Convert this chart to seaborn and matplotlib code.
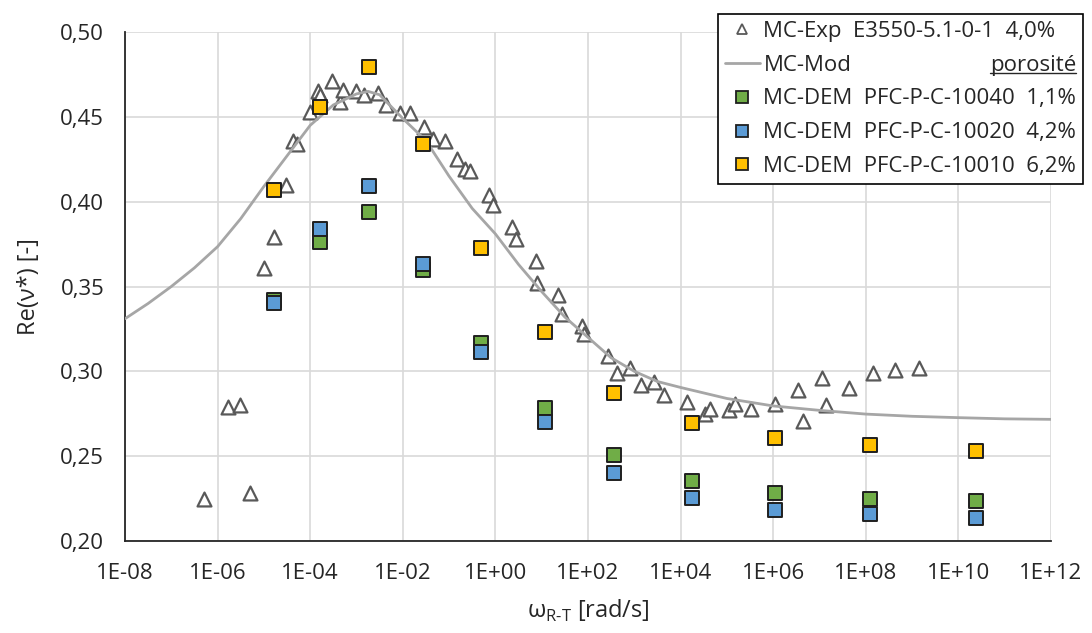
import numpy as np
import pandas as pd
import matplotlib
matplotlib.use("Agg")
import matplotlib.pyplot as plt
from matplotlib.lines import Line2D
from matplotlib.ticker import FuncFormatter, FixedLocator, NullLocator
import seaborn as sns

# MC-Exp E3550-5.1-0-1 (triangles)
exp_w = [5.0e-07, 1.66e-06, 3.1e-06, 5.1e-06, 1.0e-05, 1.66e-05, 3.0e-05, 4.3e-05, 5.1e-05,
         1.0e-04, 1.45e-04, 1.6e-04, 2.95e-04, 4.5e-04, 5.1e-04, 9.8e-04, 1.48e-03, 2.95e-03,
         4.3e-03, 8.7e-03, 1.45e-02, 2.9e-02, 4.6e-02, 8.1e-02, 1.45e-01, 2.2e-01, 2.8e-01,
         7.2e-01, 8.7e-01, 2.3, 2.8, 7.6, 7.9, 22, 27, 74, 81, 270, 420, 810, 1380, 2700, 4300,
         1.4e4, 3.3e4, 4.3e4, 1.1e5, 1.5e5, 3.3e5, 1.1e6, 3.4e6, 4.3e6, 1.15e7, 1.4e7, 4.3e7,
         1.45e8, 4.3e8, 1.4e9]
exp_re = [0.225, 0.279, 0.280, 0.228, 0.361, 0.379, 0.410, 0.436, 0.434,
          0.453, 0.465, 0.463, 0.471, 0.459, 0.466, 0.465, 0.463, 0.464,
          0.457, 0.452, 0.452, 0.444, 0.437, 0.436, 0.425, 0.419, 0.418,
          0.404, 0.398, 0.385, 0.378, 0.365, 0.352, 0.345, 0.334, 0.327, 0.322, 0.309, 0.299,
          0.302, 0.292, 0.294, 0.286,
          0.282, 0.275, 0.278, 0.277, 0.281, 0.278, 0.281, 0.289, 0.271, 0.296, 0.280, 0.290,
          0.299, 0.301, 0.302]

# MC-Mod (model curve)
mod_w = [1e-08, 3.16e-08, 1e-07, 3.16e-07, 1e-06, 3.16e-06, 1e-05, 3.16e-05, 1e-04, 3.16e-04,
         1e-03, 1.78e-03, 3.16e-03, 5.62e-03, 1e-02, 3.16e-02, 1e-01, 3.16e-01, 1.0, 3.16, 10,
         31.6, 100, 316, 1e3, 3.16e3, 1e4, 1e5, 1e6, 1e7, 1e8, 1e9, 1e10, 1e11, 1e12]
mod_re = [0.331, 0.340, 0.350, 0.361, 0.3735, 0.390, 0.409, 0.427, 0.445, 0.457,
          0.4635, 0.465, 0.463, 0.456, 0.449, 0.436, 0.415, 0.396, 0.381, 0.363, 0.347,
          0.332, 0.320, 0.308, 0.300, 0.294, 0.2905, 0.284, 0.2796, 0.277, 0.2748, 0.2735,
          0.2727, 0.2720, 0.2717]

# MC-DEM series
dem_w = [1.66e-05, 1.6e-04, 1.86e-03, 2.7e-02, 0.48, 11.5, 363, 1.74e4, 1.12e6, 1.26e8, 2.4e10]
dem_10040 = [0.3420, 0.3765, 0.3937, 0.3598, 0.3167, 0.2784, 0.2504, 0.2353, 0.2285, 0.2248, 0.2238]
dem_10020 = [0.3401, 0.3838, 0.4090, 0.3630, 0.3112, 0.2702, 0.2403, 0.2252, 0.2184, 0.2159, 0.2137]
dem_10010 = [0.4067, 0.4557, 0.4793, 0.4339, 0.3729, 0.3231, 0.2875, 0.2697, 0.2607, 0.2564, 0.2532]

labels = ["MC-Exp  E3550-5.1-0-1  4,0%", "MC-Mod",
          "MC-DEM  PFC-P-C-10040  1,1%", "MC-DEM  PFC-P-C-10020  4,2%",
          "MC-DEM  PFC-P-C-10010  6,2%"]
x_ticks = [1e-08, 1e-06, 1e-04, 1e-02, 1e+00, 1e+02, 1e+04, 1e+06, 1e+08, 1e+10, 1e+12]
y_ticks = [0.20, 0.25, 0.30, 0.35, 0.40, 0.45, 0.50]

c_green, c_blue, c_yellow = "#70AD47", "#5B9BD5", "#FFC000"
c_tri, c_line, c_edge = "#595959", "#A6A6A6", "#1f1f1f"
c_text = "#262626"

sns.set_theme(style="white")
plt.rcParams["font.family"] = ["Open Sans", "DejaVu Sans"]
plt.rcParams["mathtext.fontset"] = "custom"
plt.rcParams["mathtext.rm"] = "Open Sans"

fig = plt.figure(figsize=(10.92, 6.33), dpi=100)
ax = fig.add_axes([125 / 1092, 1 - 541 / 633, 926 / 1092, 509 / 633])

exp_df = pd.DataFrame({"w": exp_w, "re": exp_re})
mod_df = pd.DataFrame({"w": mod_w, "re": mod_re})

sns.scatterplot(data=exp_df, x="w", y="re", ax=ax, marker="^", s=100,
                facecolor="white", edgecolor=c_tri, linewidth=1.6, zorder=3)
sns.lineplot(data=mod_df, x="w", y="re", ax=ax, color=c_line, linewidth=2.0, zorder=4)
for vals, col in [(dem_10040, c_green), (dem_10020, c_blue), (dem_10010, c_yellow)]:
    d = pd.DataFrame({"w": dem_w, "re": vals})
    sns.scatterplot(data=d, x="w", y="re", ax=ax, marker="s", s=88,
                    color=col, edgecolor=c_edge, linewidth=1.4, zorder=5)

ax.set_xscale("log")
ax.set_xlim(1e-08, 1e+12)
ax.set_ylim(0.20, 0.50)
ax.xaxis.set_major_locator(FixedLocator(x_ticks))
ax.xaxis.set_minor_locator(NullLocator())
ax.xaxis.set_major_formatter(FuncFormatter(lambda v, p: "1E%+03d" % int(round(np.log10(v)))))
ax.yaxis.set_major_locator(FixedLocator(y_ticks))
ax.yaxis.set_major_formatter(FuncFormatter(lambda v, p: ("%.2f" % v).replace(".", ",")))

ax.grid(True, color="#d9d9d9", linewidth=1.2)
ax.set_axisbelow(True)
for s in ["top", "right"]:
    ax.spines[s].set_visible(False)
for s in ["left", "bottom"]:
    ax.spines[s].set_color(c_text)
    ax.spines[s].set_linewidth(1.3)
ax.tick_params(axis="both", which="major", direction="out", length=6, width=1.2,
               color=c_text, labelsize=16, labelcolor=c_text)
ax.tick_params(axis="x", pad=10)
ax.tick_params(axis="y", pad=9)

ax.set_xlabel(r"ω$_{\mathregular{R\text{-}T}}$ [rad/s]", fontsize=17, color=c_text, labelpad=10)
ax.set_ylabel("Re(ν*) [-]", fontsize=17, color=c_text, labelpad=14)

handles = [
    Line2D([], [], marker="^", linestyle="none", markersize=7, markerfacecolor="white",
           markeredgecolor=c_tri, markeredgewidth=1.3),
    Line2D([], [], color=c_line, linewidth=2.0),
    Line2D([], [], marker="s", linestyle="none", markersize=8, markerfacecolor=c_green,
           markeredgecolor=c_edge, markeredgewidth=1.3),
    Line2D([], [], marker="s", linestyle="none", markersize=8, markerfacecolor=c_blue,
           markeredgecolor=c_edge, markeredgewidth=1.3),
    Line2D([], [], marker="s", linestyle="none", markersize=8, markerfacecolor=c_yellow,
           markeredgecolor=c_edge, markeredgewidth=1.3),
]
leg = fig.legend(handles, labels, loc="upper right", bbox_to_anchor=(1083 / 1092, 1 - 14 / 633),
                 fontsize=16, frameon=True, fancybox=False, framealpha=1,
                 edgecolor="black", handlelength=1.6, handletextpad=0.15,
                 labelspacing=0.58, borderpad=0.3, borderaxespad=0)
leg.get_frame().set_linewidth(1.2)
for t in leg.get_texts():
    t.set_color(c_text)

# "porosité" underlined, right side of the MC-Mod row
fig.canvas.draw()
r = fig.canvas.get_renderer()
fb = leg.get_frame().get_window_extent(r)
tb = leg.get_texts()[1].get_window_extent(r)
ypos = (tb.y0 + tb.y1) / 2
pt = fig.text((fb.x1 - 7) / 1092, ypos / 633, "porosité", ha="right", va="center",
              fontsize=16, color=c_text, zorder=20)
fig.canvas.draw()
pb = pt.get_window_extent(r)
fig.add_artist(Line2D([pb.x0 / 1092, pb.x1 / 1092], [(pb.y0 + 3) / 633, (pb.y0 + 3) / 633],
                      color=c_text, linewidth=1.0, transform=fig.transFigure, zorder=20))

fig.savefig("out.png", dpi=100)
